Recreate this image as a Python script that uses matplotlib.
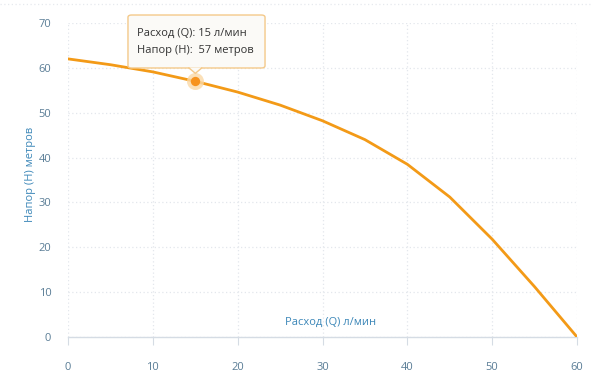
import matplotlib.pyplot as plt
from matplotlib.patches import FancyBboxPatch, Polygon
from matplotlib.lines import Line2D

# ----------------------------------------------------------
# DATOS: curva de la bomba (caudal vs altura)
# ----------------------------------------------------------
rashod = [0, 5, 10, 15, 20, 25, 30, 35, 40, 45, 50, 55, 60]
napor = [62, 60.7, 59.1, 57, 54.6, 51.7, 48.2, 44, 38.5, 31.2, 21.8, 11.2, 0]
ticks_x = [0, 10, 20, 30, 40, 50, 60]
ticks_y = [0, 10, 20, 30, 40, 50, 60, 70]
punto_q = 15
punto_h = 57

COLOR_LINEA = "#f39a17"
COLOR_TICK = "#5a7d96"
COLOR_LABEL = "#3c87b8"
COLOR_GRID = "#e3e7ec"

plt.rcParams["font.family"] = ["Open Sans", "DejaVu Sans"]

fig = plt.figure(figsize=(6, 3.8), dpi=100)
ax = fig.add_axes([0.1133, 0.1132, 0.8484, 0.8263])

ax.plot(rashod, napor, color=COLOR_LINEA, linewidth=2.0, solid_capstyle="round", zorder=3)

# punto resaltado con halo
ax.scatter([punto_q], [punto_h], s=150, color="#fbd9a6", alpha=0.8, zorder=4, linewidths=0)
ax.scatter([punto_q], [punto_h], s=45, color="#f7931e", zorder=5, linewidths=0)

ax.set_xlim(0, 60)
ax.set_ylim(0, 70)
ax.set_xticks(ticks_x)
ax.set_yticks(ticks_y)

ax.grid(True, color=COLOR_GRID, linestyle=(0, (1, 2)), linewidth=0.9)
ax.set_axisbelow(True)

for lado in ["top", "right", "left"]:
    ax.spines[lado].set_visible(False)
ax.spines["bottom"].set_color("#d5dce4")
ax.spines["bottom"].set_linewidth(1.0)

ax.tick_params(axis="x", colors="#d5dce4", labelcolor=COLOR_TICK, length=6,
               direction="in", labelsize=8, pad=12)
ax.tick_params(axis="y", length=0, labelcolor=COLOR_TICK, labelsize=8, pad=12)
# los ticks del eje x cuelgan hacia abajo
ax.tick_params(axis="x", direction="out", length=6, width=0.8)

ax.text(0.515, 0.047, "Расход (Q) л/мин", transform=ax.transAxes,
        ha="center", va="center", color=COLOR_LABEL, fontsize=8)
fig.text(0.05, 0.54, "Напор (H) метров", rotation=90, ha="center", va="center",
         color=COLOR_LABEL, fontsize=8)

# línea punteada superior
fig.add_artist(Line2D([0.0, 0.985], [0.99, 0.99], transform=fig.transFigure,
                      color="#e6e9ee", linestyle=(0, (1, 2)), linewidth=0.9))

# ----------------------------------------------------------
# TOOLTIP
# ----------------------------------------------------------
caja = FancyBboxPatch((0.2133, 0.8211), 0.2284, 0.1394, transform=fig.transFigure,
                      boxstyle="round,pad=0,rounding_size=0.006",
                      facecolor="#fbfaf7", edgecolor="#f4c98a", linewidth=1.0,
                      zorder=10, clip_on=False)
fig.add_artist(caja)
flecha = Polygon([[0.3150, 0.8225], [0.3362, 0.8225], [0.3256, 0.8070]],
                 closed=True, transform=fig.transFigure, facecolor="#fbfaf7",
                 edgecolor="none", zorder=11, clip_on=False)
fig.add_artist(flecha)
fig.add_artist(Line2D([0.3150, 0.3256, 0.3362], [0.8211, 0.8070, 0.8211],
                      transform=fig.transFigure, color="#f4c98a", linewidth=1.0, zorder=12))

fig.text(0.2283, 0.913, f"Расход (Q): {punto_q} л/мин", ha="left", va="center",
         fontsize=8, color="#333333", zorder=13)
fig.text(0.2283, 0.868, f"Напор (H):  {punto_h} метров", ha="left", va="center",
         fontsize=8, color="#333333", zorder=13)

fig.savefig("out.png", dpi=100, facecolor="white")
